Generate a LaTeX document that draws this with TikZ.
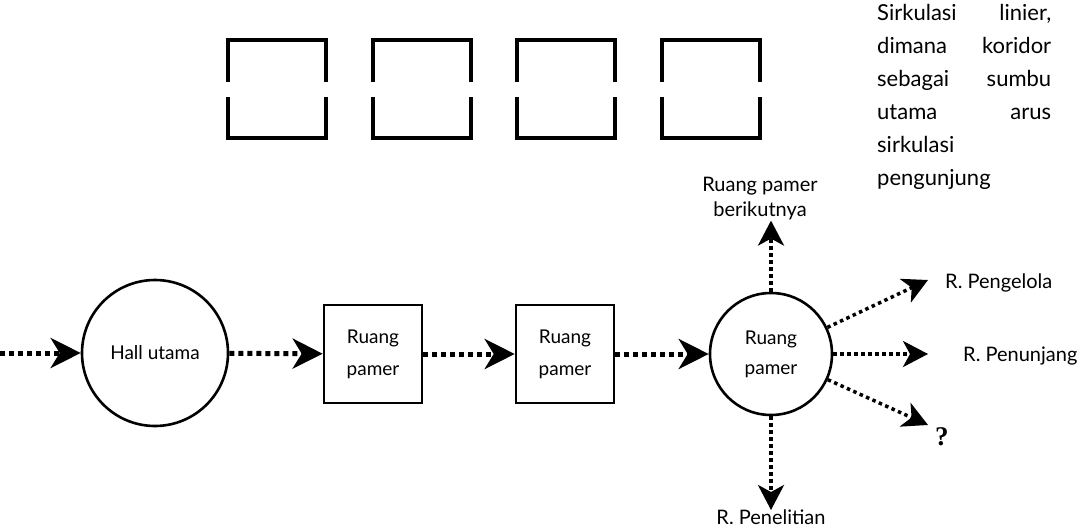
\documentclass[tikz,border=0pt]{standalone}
\usepackage{fontspec}
\setmainfont{Lato}
\newfontfamily\qmarkfont{Liberation Serif}
\usepackage{tikz}
\usetikzlibrary{arrows.meta, positioning}
\tikzset{
    hall/.style={
        circle, draw=black, line width=2.6pt, minimum size=146pt, inner sep=0pt,
        align=center, font=\fontsize{19}{30}\selectfont
    },
    hub/.style={
        circle, draw=black, line width=2.6pt, minimum size=122pt, inner sep=0pt,
        align=center, font=\fontsize{19}{30}\selectfont
    },
    room/.style={
        rectangle, draw=black, line width=2.6pt, minimum width=98pt, minimum height=98pt,
        inner sep=0pt, align=center, font=\fontsize{19}{32}\selectfont
    },
    tag/.style={
        inner sep=0pt, align=center, font=\fontsize{20}{25}\selectfont
    },
    flow/.style={
        line width=5pt, dash pattern=on 5pt off 4pt, -{Stealth[length=30pt, width=30pt, inset=9pt]}
    },
    branch/.style={
        line width=3.5pt, dash pattern=on 3.5pt off 3.5pt, -{Stealth[length=25pt, width=26pt, inset=7pt]}
    },
    block/.style={
        line width=3.5pt
    }
}

\begin{document}
\begin{tikzpicture}[x=1pt, y=-1pt]
    \useasboundingbox (0,0) rectangle (1089,532);

    % Ruang-ruang di atas
    \foreach \x in {228,373,517,662} {
        \draw[block] (\x,82) -- (\x,40) -- (\x+98,40) -- (\x+98,82);
        \draw[block] (\x,97) -- (\x,138) -- (\x+98,138) -- (\x+98,97);
    }
    \node[anchor=north west, text width=174pt, align=left, inner sep=0pt,
          font=\fontsize{22}{33}\selectfont] (note) at (877,4)
          {Sirkulasi\hfill linier,\\dimana\hfill koridor\\sebagai\hfill sumbu\\utama\hfill arus\\sirkulasi\\pengunjung};

    % Alur utama
    \coordinate (entry) at (0,353);
    \node[hall] (hall) at (155,353) {Hall utama};
    \node[room] (room1) at (373,354) {Ruang\\pamer};
    \node[room] (room2) at (565,354) {Ruang\\pamer};
    \node[hub] (hub) at (771,354) {Ruang\\pamer};

    % Tujuan berikutnya
    \node[tag] (next) at (760,199) {Ruang pamer\\berikutnya};
    \node[tag, anchor=west] (manage) at (945,283) {R. Pengelola};
    \node[tag, anchor=west] (support) at (963,356) {R. Penunjang};
    \node[anchor=west, inner sep=0pt, font=\qmarkfont\bfseries\fontsize{27}{27}\selectfont] (unknown) at (935,437) {?};
    \node[tag, anchor=north] (research) at (771,510) {R. Penelitian};
    \coordinate (toManage) at (928,280);
    \coordinate (toSupport) at (928,354);
    \coordinate (toUnknown) at (928,425);

    \draw[flow] (entry) -- (hall);
    \draw[flow] (hall) -- (room1);
    \draw[flow] (room1) -- (room2);
    \draw[flow] (room2) -- (hub);
    \draw[branch] (hub.north) -- (hub.north |- next.south);
    \draw[branch] (hub) -- (toManage);
    \draw[branch] (hub) -- (toSupport);
    \draw[branch] (hub) -- (toUnknown);
    \draw[branch] (hub.south) -- (research);
\end{tikzpicture}
\end{document}
